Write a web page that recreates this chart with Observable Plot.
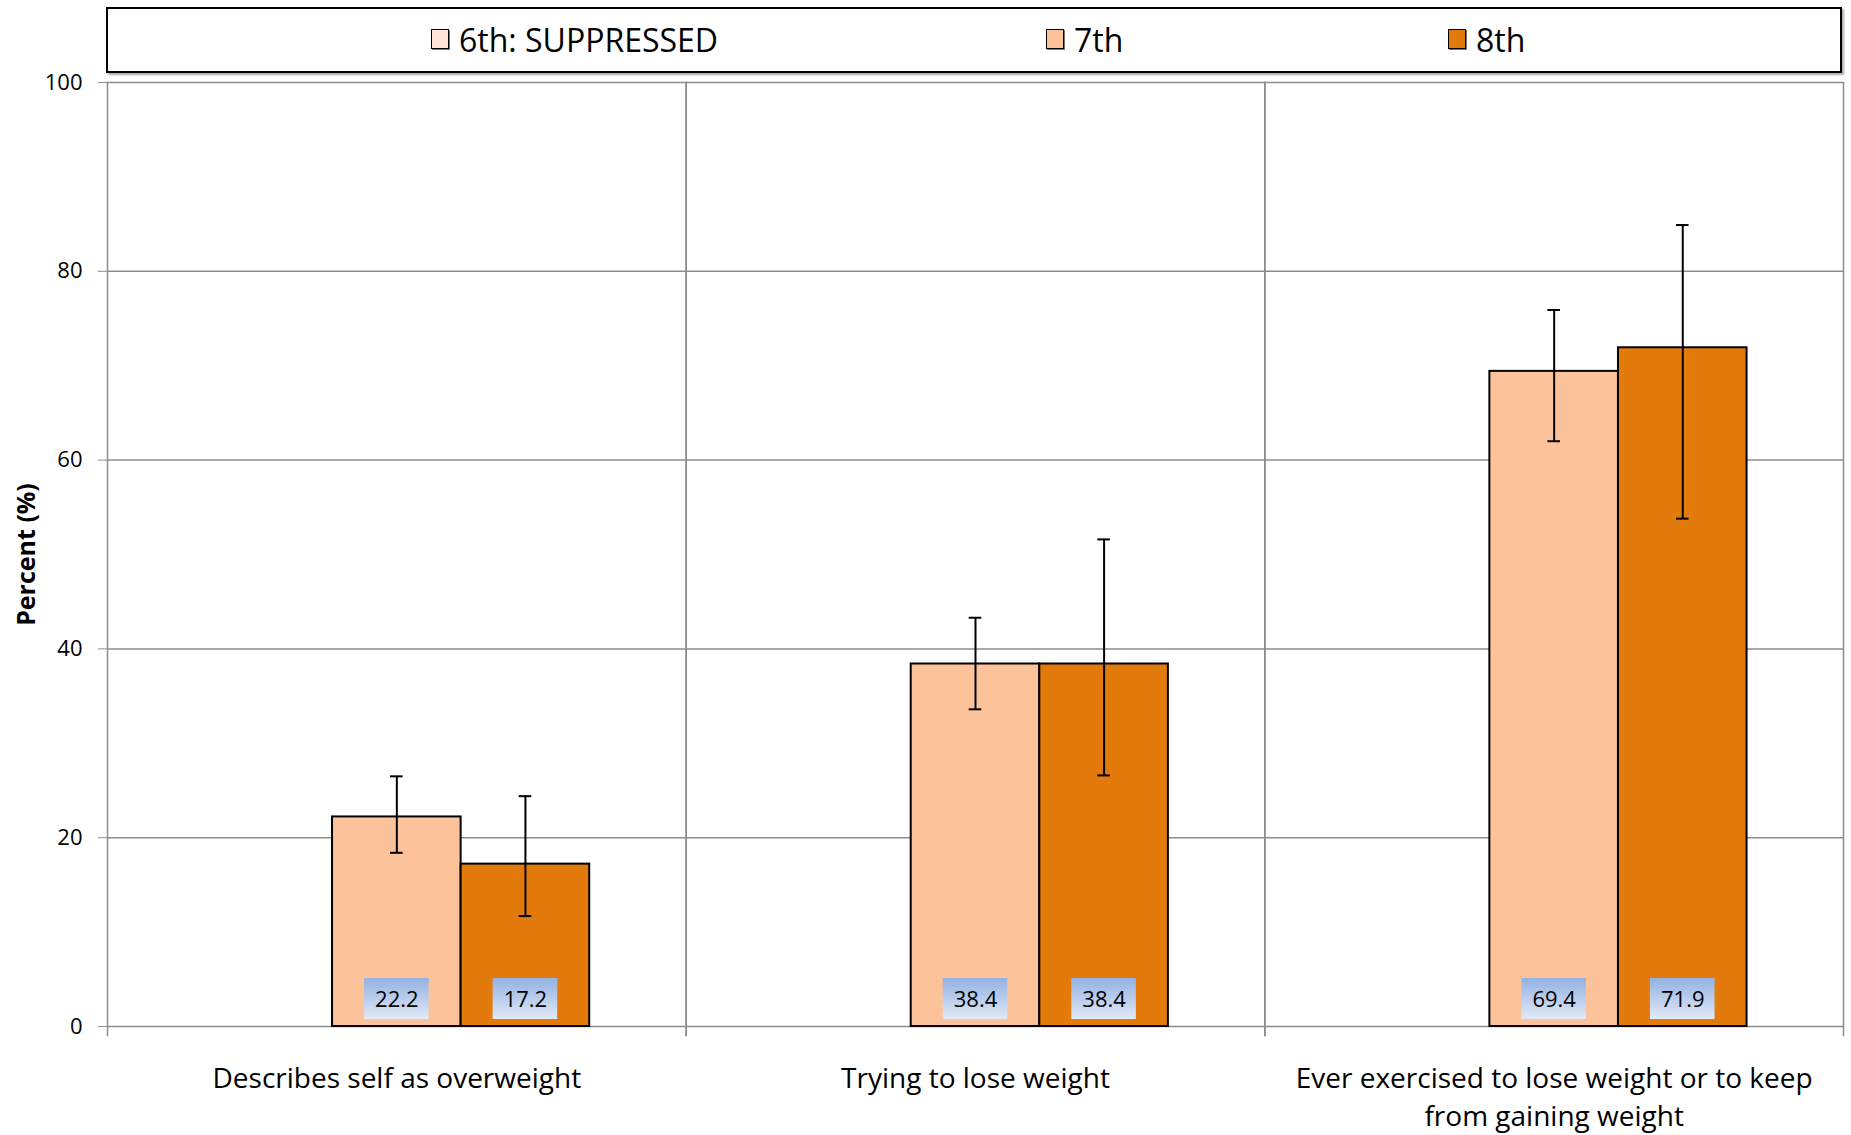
<!DOCTYPE html>
<html><head><meta charset="utf-8">
<script src="https://cdn.jsdelivr.net/npm/d3@7"></script>
<script src="https://cdn.jsdelivr.net/npm/@observablehq/plot@0.6"></script>
<style>
html,body{margin:0;padding:0;background:#fff;}
body{width:1851px;height:1135px;overflow:hidden;font-family:"Open Sans",sans-serif;}
#legend{position:relative;height:74px;}
#legend .box{position:absolute;left:106px;top:7px;width:1736px;height:66px;box-sizing:border-box;border:2px solid #000;box-shadow:2px 2px 2px rgba(0,0,0,0.35);background:#fff;}
.item{position:absolute;top:-1px;height:100%;display:flex;align-items:center;font-size:32px;color:#000;white-space:nowrap;}
.sw{width:16px;height:18px;border:1.5px solid #000;margin-right:10px;box-shadow:1px 1px 0 #777;}
#chart svg{overflow:visible;display:block;}
</style></head>
<body>
<div id="legend"><div class="box"></div></div>
<div id="chart"></div>
<script>
const categories = ["Describes self as overweight", "Trying to lose weight", "Ever exercised to lose weight or to keep from gaining weight"];
const categoryLabels = ["Describes self as overweight", "Trying to lose weight", "Ever exercised to lose weight or to keep\nfrom gaining weight"];
const grades = ["6th", "7th", "8th"];
const gradeLegend = ["6th: SUPPRESSED", "7th", "8th"];
const gradeColors = ["#fde6d8", "#fcc39b", "#e27b0b"];
const grade7 = [22.2, 38.4, 69.4];
const grade7Low = [18.4, 33.6, 62.0];
const grade7High = [26.5, 43.3, 75.9];
const grade8 = [17.2, 38.4, 71.9];
const grade8Low = [11.7, 26.6, 53.8];
const grade8High = [24.4, 51.6, 84.9];
const yTicks = [0, 20, 40, 60, 80, 100];
const yLabel = "Percent (%)";

const rows = [];
categories.forEach((c, i) => {
  rows.push({category: c, grade: "7th", value: grade7[i], low: grade7Low[i], high: grade7High[i]});
  rows.push({category: c, grade: "8th", value: grade8[i], low: grade8Low[i], high: grade8High[i]});
});

// legend
const legendX = [323, 938, 1340];
const box = document.querySelector("#legend .box");
grades.forEach((g, i) => {
  const it = document.createElement("div");
  it.className = "item";
  it.style.left = legendX[i] + "px";
  const sw = document.createElement("div");
  sw.className = "sw";
  sw.style.background = gradeColors[i];
  it.append(sw, document.createTextNode(gradeLegend[i]));
  box.append(it);
});

const gradientDefs = () => {
  const defs = d3.create("svg:defs");
  const lg = defs.append("linearGradient").attr("id", "lblGrad").attr("x1", 0).attr("y1", 0).attr("x2", 0).attr("y2", 1);
  lg.append("stop").attr("offset", 0).attr("stop-color", "#93b1e2");
  lg.append("stop").attr("offset", 1).attr("stop-color", "#e1e9f6");
  return defs.node();
};

const gray = "#8c8c8c";
const chart = Plot.plot({
  width: 1851,
  height: 1061,
  marginTop: 8,
  marginBottom: 109,
  marginLeft: 107,
  marginRight: 8,
  style: {fontFamily: "'Open Sans', sans-serif", background: "#fff", overflow: "visible", color: "#000"},
  fx: {domain: categories, padding: 0, round: false},
  x: {domain: grades, paddingInner: 0, paddingOuter: 0.75, round: false, axis: null},
  y: {domain: [0, 100]},
  color: {domain: grades, range: gradeColors},
  marks: [
    gradientDefs,
    Plot.gridY(yTicks, {stroke: gray, strokeOpacity: 1, strokeWidth: 1.5}),
    Plot.barY(rows, {fx: "category", x: "grade", y: "value", fill: "grade", stroke: "#000", strokeWidth: 2}),
    Plot.ruleX(rows, {fx: "category", x: "grade", y1: "low", y2: "high", stroke: "#000", strokeWidth: 2}),
    Plot.tickY(rows, {fx: "category", x: "grade", y: "low", insetLeft: 58, insetRight: 58, stroke: "#000", strokeWidth: 2}),
    Plot.tickY(rows, {fx: "category", x: "grade", y: "high", insetLeft: 58, insetRight: 58, stroke: "#000", strokeWidth: 2}),
    Plot.barY(rows, {fx: "category", x: "grade", y1: 0, y2: 0, insetLeft: 32, insetRight: 32, insetTop: -41, dy: -7, fill: "url(#lblGrad)"}),
    Plot.text(rows, {fx: "category", x: "grade", y: 0, text: d => d.value.toFixed(1), dy: -27, fontSize: 22, fill: "#000"}),
    Plot.frame({anchor: "left", stroke: gray, strokeWidth: 1.5, insetBottom: -9}),
    Plot.frame({anchor: "right", stroke: gray, strokeWidth: 1.5, insetBottom: -9}),
    Plot.axisY(yTicks, {tickSize: 9, tickPadding: 16, stroke: gray, fill: "#000", fontSize: 22, label: null}),
    Plot.axisFx({anchor: "bottom", tickSize: 0, tickPadding: 34, fontSize: 28, lineHeight: 1.36, fill: "#000", label: null,
      tickFormat: d => categoryLabels[categories.indexOf(d)]}),
    Plot.text([yLabel], {fx: () => categories[0], text: d => d, frameAnchor: "left", textAnchor: "middle", lineAnchor: "middle", dx: -81, rotate: -90, fontWeight: "bold", fontSize: 25, fill: "#000"})
  ]
});
document.getElementById("chart").append(chart);
</script>
</body></html>
